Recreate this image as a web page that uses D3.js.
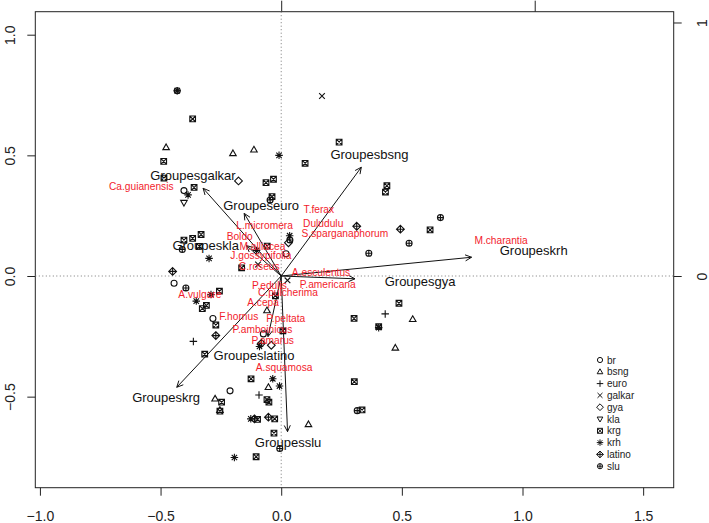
<!DOCTYPE html>
<html><head><meta charset="utf-8">
<script src="https://cdn.jsdelivr.net/npm/d3@7"></script>
<style>
html,body{margin:0;padding:0;background:#fff;}
svg text{font-family:"Liberation Sans",Arial,Helvetica,sans-serif;}
</style>
</head><body>
<svg id="chart" width="709" height="523"></svg>
<script>
// ---------------- DATA ----------------
const legendGroups = ["br","bsng","euro","galkar","gya","kla","krg","krh","latino","slu"];
const legendShapes = ["circle","triangle","plus","cross","diamond","triangleDown","squareCross","asterisk","diamondPlus","circlePlus"];

const siteGroup = ["slu","krh","krg","bsng","krg","bsng","bsng","krh","krg","galkar","krg","krg","krg","krg","br","krh","kla","krg","gya","krg","slu",
  "krg","krg","krg","slu","krg","krh","latino","br","slu","krg","krh","krh","krg","krg","br","krg","latino","euro","krg",
  "krg","galkar","krh","slu","gya","br","krg","krh","galkar","krg","bsng","krg","br","krh","latino","gya","krg",
  "krg","krh","bsng","krh","br","euro","krg","krg","bsng","krg","bsng","krg","krh","latino","krg","latino","krg","krg","bsng","slu","krh","krg",
  "krg","krg","slu","latino","latino","krg","slu","slu","krg","euro","bsng","krh","krg","bsng","krg","slu","krg"];
const siteX = [-0.431,-0.431,-0.367,-0.477,-0.487,-0.200,-0.113,-0.009,0.099,0.169,0.240,-0.063,-0.032,-0.486,-0.403,-0.386,-0.403,-0.361,-0.177,-0.038,-0.046,
  -0.332,-0.367,-0.403,-0.410,-0.339,-0.299,-0.450,-0.444,-0.395,-0.256,-0.291,-0.352,-0.310,-0.327,-0.283,-0.271,-0.271,-0.364,-0.317,
  -0.164,-0.096,0.035,0.036,0.030,0.020,-0.058,-0.102,0.026,-0.024,-0.059,0.007,-0.074,-0.090,-0.082,-0.041,0.302,
  -0.125,-0.035,-0.053,-0.007,-0.212,-0.092,-0.059,-0.051,-0.274,-0.247,-0.254,-0.254,-0.126,-0.111,-0.098,-0.053,-0.027,-0.030,0.113,-0.006,-0.194,-0.104,
  0.438,0.432,0.660,0.313,0.494,0.617,0.530,0.363,0.488,0.431,0.545,0.404,0.404,0.473,0.303,0.315,0.335];
const siteY = [0.768,0.768,0.651,0.533,0.475,0.508,0.523,0.500,0.467,0.746,0.555,0.387,0.401,0.406,0.354,0.336,0.304,0.367,0.394,0.329,0.315,
  0.172,0.156,0.149,0.110,0.123,0.073,0.019,-0.030,-0.050,-0.063,-0.077,-0.104,-0.122,-0.135,-0.176,-0.203,-0.247,-0.271,-0.324,
  0.034,0.048,0.167,0.149,0.138,0.092,0.124,0.106,-0.018,-0.082,-0.143,-0.227,-0.240,-0.292,-0.279,-0.287,-0.176,
  -0.426,-0.426,-0.461,-0.456,-0.476,-0.493,-0.512,-0.523,-0.509,-0.523,-0.556,-0.560,-0.592,-0.592,-0.594,-0.585,-0.592,-0.651,-0.615,-0.715,-0.752,-0.749,
  0.374,0.348,0.242,0.206,0.194,0.191,0.136,0.094,-0.113,-0.157,-0.179,-0.214,-0.210,-0.298,-0.438,-0.558,-0.555];

// group arrows (top/right axis units)
const arrowNames = ["Groupesbsng","Groupesgalkar","Groupeseuro","Groupeskla","Groupeskrh","Groupesgya","Groupeskrg","Groupeslatino","Groupesslu"];
const arrowX = [0.316,-0.308,-0.146,-0.137,0.751,0.291,-0.412,-0.052,0.025];
const arrowY = [0.429,0.346,0.247,0.120,0.074,-0.011,-0.439,-0.239,-0.614];
const arrowLabelX = [0.348,-0.348,-0.079,-0.298,0.996,0.548,-0.454,-0.107,0.027];
const arrowLabelY = [0.480,0.396,0.277,0.122,0.100,-0.022,-0.480,-0.312,-0.658];

// species labels (bottom/left axis units)
const speciesNames = ["Ca.guianensis","T.ferax","Duludulu","S.sparganaphorum","L.micromera","Boldo","M.alliacea","J.gossypifolia","C.roseus",
  "A.esculentus","P.americana","P.edulis","C.pulcherima","A.vulgare","A.cepa","F.hornus","P.peltata","P.amboinicus","P.amarus","A.squamosa","M.charantia"];
const speciesX = [-0.580,0.156,0.174,0.264,-0.069,-0.172,-0.078,-0.084,-0.091,0.165,0.193,-0.049,0.028,-0.337,-0.075,-0.176,0.019,-0.078,-0.035,0.012,0.911];
const speciesY = [0.370,0.274,0.219,0.177,0.208,0.163,0.124,0.087,0.038,0.014,-0.033,-0.038,-0.069,-0.075,-0.109,-0.166,-0.177,-0.223,-0.266,-0.380,0.146];

const xTicks = [-1.0,-0.5,0.0,0.5,1.0,1.5];
const yTicks = [-0.5,0.0,0.5,1.0];
const x2Ticks = [0,1];
const y2Ticks = [0,1];

// ---------------- LAYOUT ----------------
const box = {left:35.3, right:673.7, top:11.7, bottom:487.7};
const svg = d3.select("#chart");

const x = d3.scaleLinear().domain([-1.0191, 1.6266]).range([box.left, box.right]);
const y = d3.scaleLinear().domain([-0.8773, 1.0953]).range([box.bottom, box.top]);
const x2 = d3.scaleLinear().domain([-0.9700, 1.5483]).range([box.left, box.right]);
const y2 = d3.scaleLinear().domain([-0.8351, 1.0426]).range([box.bottom, box.top]);

const fmt = d3.format(".1f");
const tickLen = 8;

// bottom axis
const gB = svg.append("g").attr("transform",`translate(0,${box.bottom})`)
  .call(d3.axisBottom(x).tickValues(xTicks).tickFormat(fmt).tickSize(tickLen).tickPadding(15));
// left axis (rotated labels)
const gL = svg.append("g").attr("transform",`translate(${box.left},0)`)
  .call(d3.axisLeft(y).tickValues(yTicks).tickFormat(fmt).tickSize(tickLen));
// top axis (no visible labels: outside image)
const gT = svg.append("g").attr("transform",`translate(0,${box.top})`)
  .call(d3.axisTop(x2).tickValues(x2Ticks).tickFormat("").tickSize(11));
// right axis
const gR = svg.append("g").attr("transform",`translate(${box.right},0)`)
  .call(d3.axisRight(y2).tickValues(y2Ticks).tickFormat(d3.format("d")).tickSize(tickLen));

[gB,gL,gT,gR].forEach(g=>{
  g.select(".domain").remove();
  g.selectAll(".tick line").attr("stroke","#222").attr("stroke-width",1);
  g.selectAll("text").attr("font-size",14).attr("fill","#222");
});
gL.selectAll(".tick text").attr("transform","rotate(-90)").attr("x",0).attr("y",-20).attr("dy","0").attr("text-anchor","middle");
gR.selectAll(".tick text").attr("transform","rotate(-90)").attr("x",0).attr("y",33).attr("dy","0").attr("text-anchor","middle");

// box
svg.append("rect").attr("x",box.left).attr("y",box.top)
  .attr("width",box.right-box.left).attr("height",box.bottom-box.top)
  .attr("fill","none").attr("stroke","#222").attr("stroke-width",1);

// dotted zero lines
svg.append("line").attr("x1",x(0)).attr("x2",x(0)).attr("y1",box.top).attr("y2",box.bottom)
  .attr("stroke","#777").attr("stroke-dasharray","1,2.5").attr("stroke-width",1);
svg.append("line").attr("x1",box.left).attr("x2",box.right).attr("y1",y(0)).attr("y2",y(0))
  .attr("stroke","#777").attr("stroke-dasharray","1,2.5").attr("stroke-width",1);

// symbol paths
function symPath(shape, r){
  const p = [];
  const c = (rr)=>`M${-rr},0A${rr},${rr} 0 1,0 ${rr},0A${rr},${rr} 0 1,0 ${-rr},0Z`;
  switch(shape){
    case "circle": return c(r);
    case "triangle": { const h=r*1.15; return `M0,${-h}L${h*0.95},${h*0.65}L${-h*0.95},${h*0.65}Z`; }
    case "triangleDown": { const h=r*1.15; return `M0,${h}L${h*0.95},${-h*0.65}L${-h*0.95},${-h*0.65}Z`; }
    case "plus": { const h=r*1.25; return `M${-h},0H${h}M0,${-h}V${h}`; }
    case "cross": { const h=r*0.95; return `M${-h},${-h}L${h},${h}M${-h},${h}L${h},${-h}`; }
    case "diamond": { const h=r*1.3; return `M0,${-h}L${h},0L0,${h}L${-h},0Z`; }
    case "squareCross": { const h=r*0.95; return `M${-h},${-h}H${h}V${h}H${-h}ZM${-h},${-h}L${h},${h}M${-h},${h}L${h},${-h}`; }
    case "asterisk": { const h=r*1.25, d=r*0.9; return `M${-h},0H${h}M0,${-h}V${h}M${-d},${-d}L${d},${d}M${-d},${d}L${d},${-d}`; }
    case "diamondPlus": { const h=r*1.3; return `M0,${-h}L${h},0L0,${h}L${-h},0ZM${-h},0H${h}M0,${-h}V${h}`; }
    case "circlePlus": return c(r)+`M${-r},0H${r}M0,${-r}V${r}`;
  }
}
const shapeOf = d3.scaleOrdinal().domain(legendGroups).range(legendShapes);

// sites
const sites = siteGroup.map((g,i)=>({g, x:siteX[i], y:siteY[i]}));
svg.append("g").selectAll("path").data(sites).join("path")
  .attr("transform",d=>`translate(${x(d.x)},${y(d.y)})`)
  .attr("d",d=>symPath(shapeOf(d.g),3))
  .attr("fill","none").attr("stroke","#111").attr("stroke-width",1.1);

// arrows
const ox = x2(0), oy = y2(0);
const arrows = arrowNames.map((n,i)=>({n, x:arrowX[i], y:arrowY[i], lx:arrowLabelX[i], ly:arrowLabelY[i]}));
const ag = svg.append("g").attr("stroke","#111").attr("stroke-width",1).attr("fill","none");
arrows.forEach(a=>{
  const tx = x2(a.x), ty = y2(a.y);
  const ang = Math.atan2(ty-oy, tx-ox);
  const L = 7, spread = Math.PI/7;
  ag.append("line").attr("x1",ox).attr("y1",oy).attr("x2",tx).attr("y2",ty);
  ag.append("path").attr("d",
    `M${tx-L*Math.cos(ang-spread)},${ty-L*Math.sin(ang-spread)}L${tx},${ty}L${tx-L*Math.cos(ang+spread)},${ty-L*Math.sin(ang+spread)}`);
});

// species labels
svg.append("g").selectAll("text").data(speciesNames.map((n,i)=>({n,x:speciesX[i],y:speciesY[i]}))).join("text")
  .attr("x",d=>x(d.x)).attr("y",d=>y(d.y)).attr("dy","0.35em")
  .attr("text-anchor","middle").attr("font-size",10.2).attr("fill","#f21c2c")
  .text(d=>d.n);

// group labels
svg.append("g").selectAll("text").data(arrows).join("text")
  .attr("x",d=>x2(d.lx)).attr("y",d=>y2(d.ly)).attr("dy","0.35em")
  .attr("text-anchor","middle").attr("font-size",13).attr("fill","#111")
  .text(d=>d.n);

// legend
const lg = svg.append("g");
legendGroups.forEach((g,i)=>{
  const yy = 360 + i*11.8;
  lg.append("path").attr("transform",`translate(600,${yy})`).attr("d",symPath(legendShapes[i],2.6))
    .attr("fill","none").attr("stroke","#111").attr("stroke-width",1);
  lg.append("text").attr("x",607).attr("y",yy).attr("dy","0.35em").attr("font-size",10).attr("fill","#222").text(g);
});
</script>
</body></html>
